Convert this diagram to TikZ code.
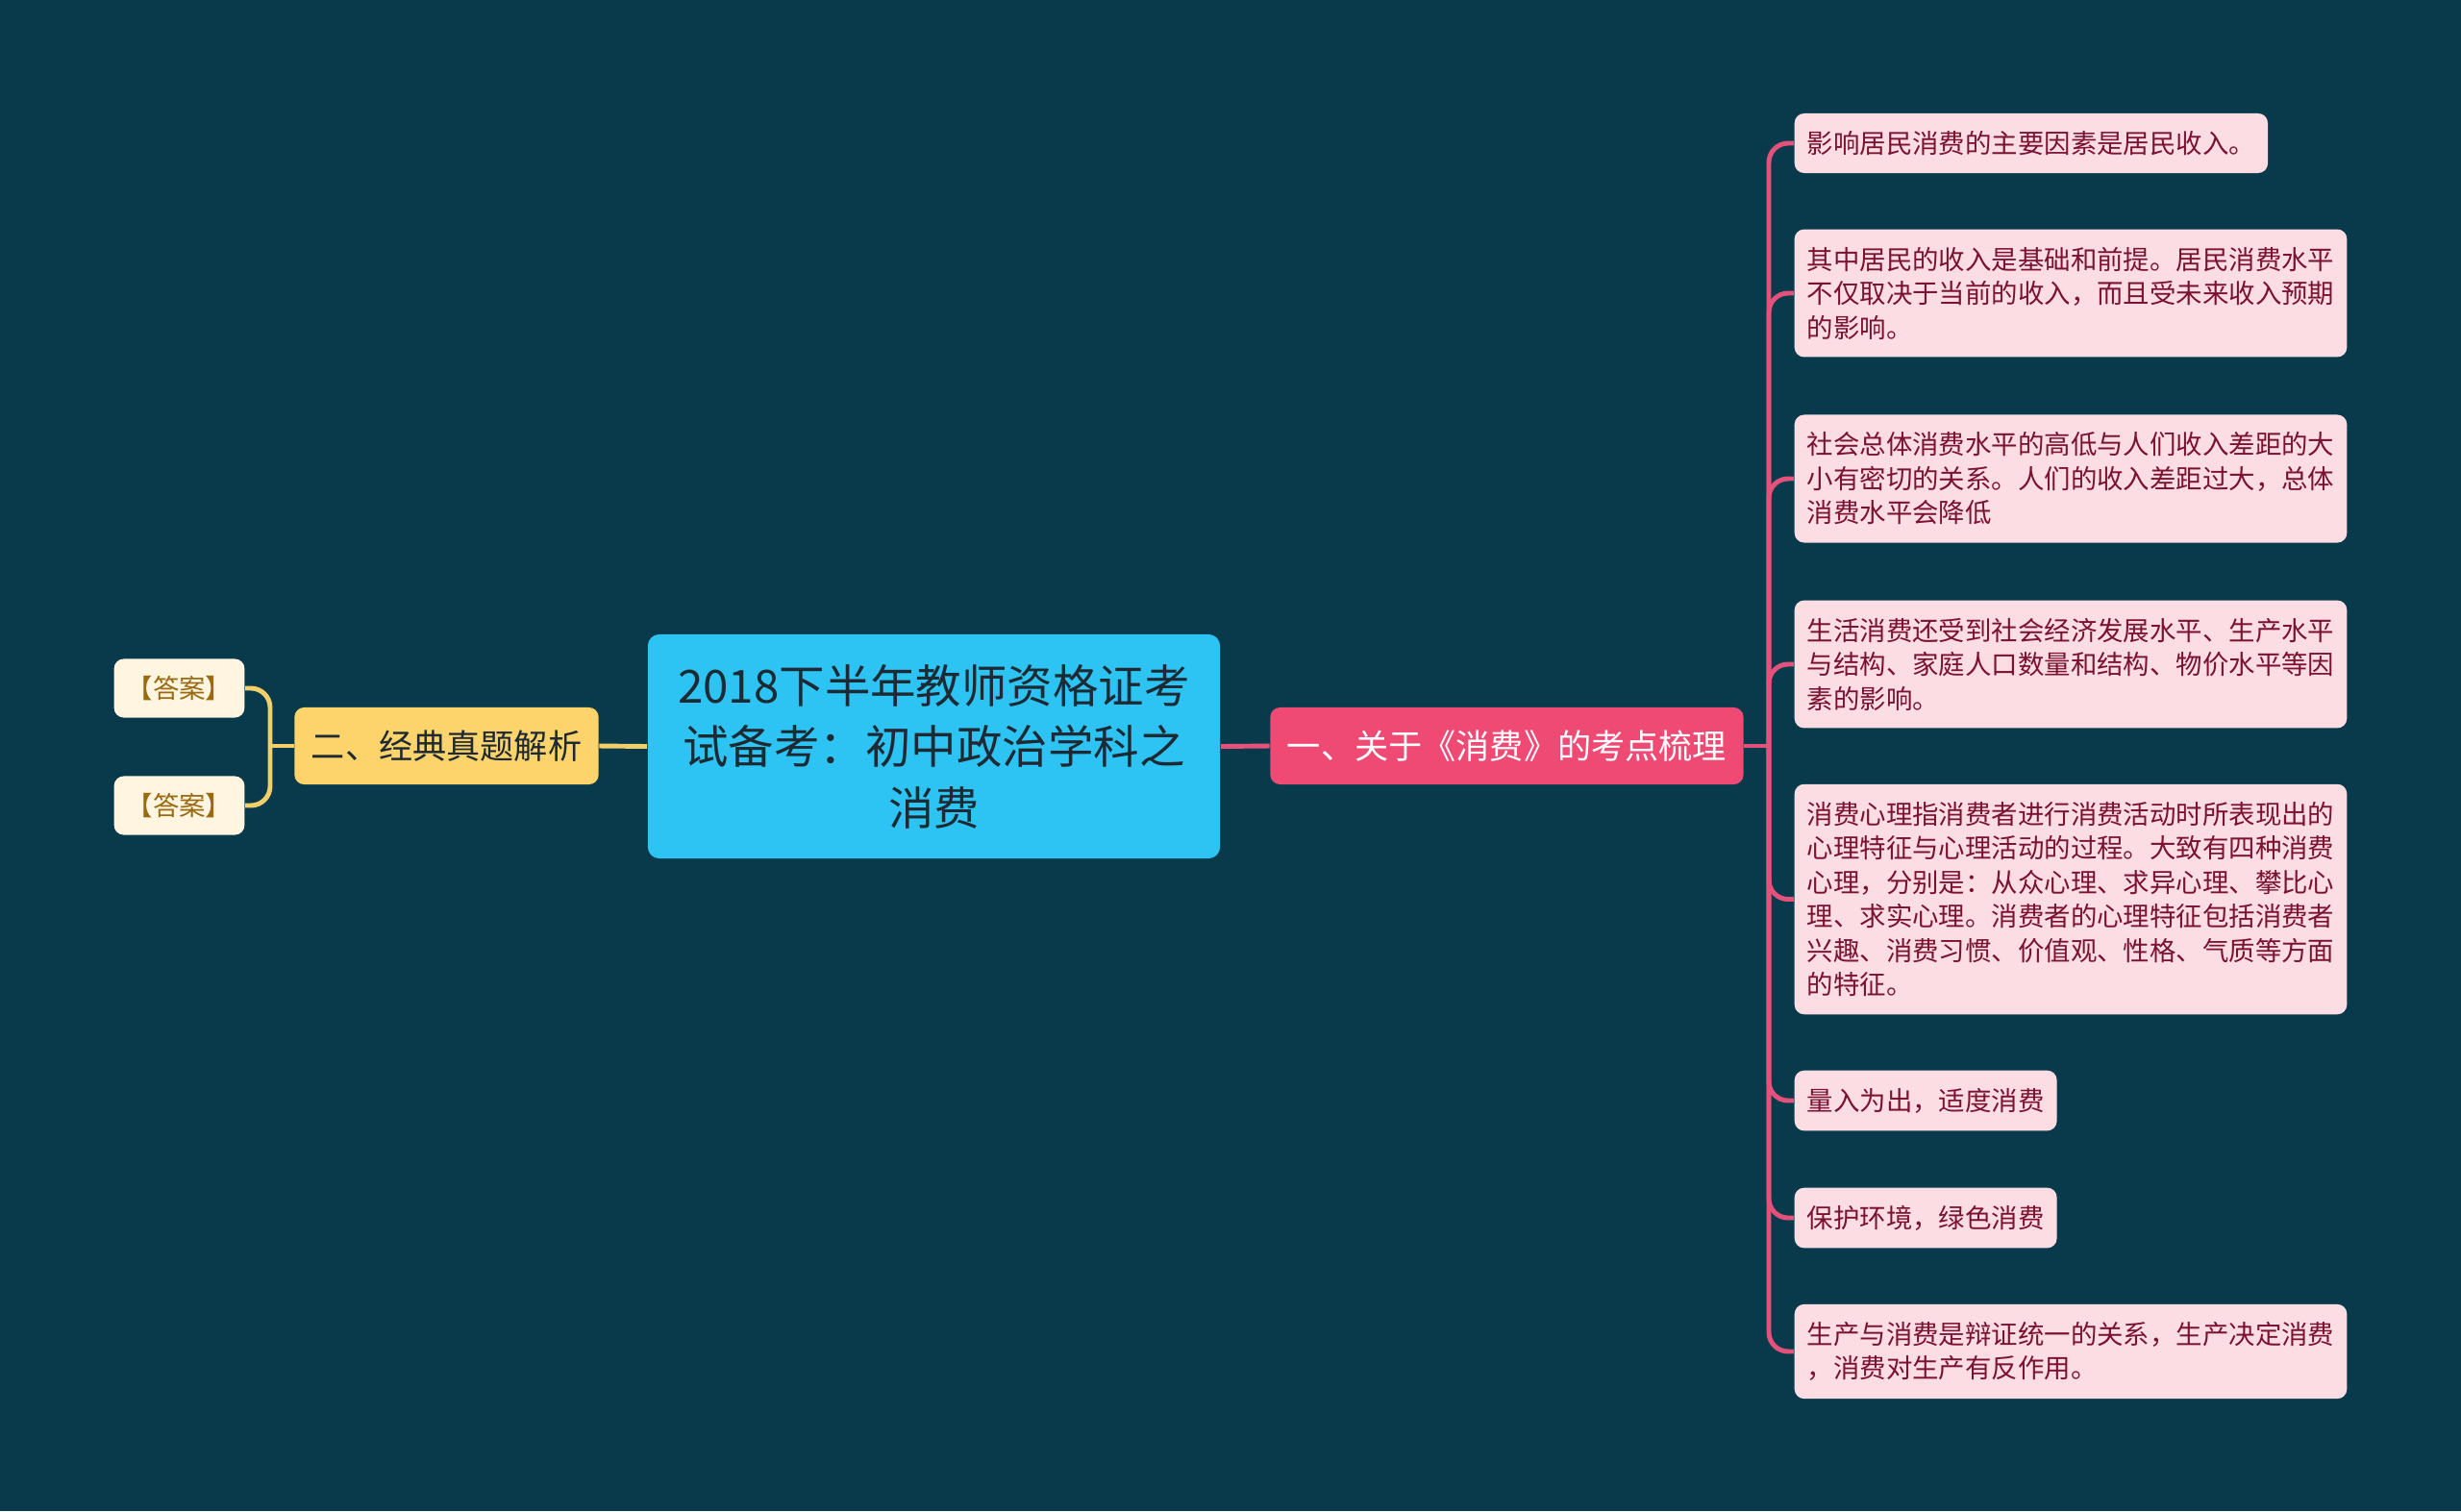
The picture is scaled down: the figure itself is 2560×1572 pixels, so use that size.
\documentclass[tikz,border=0pt]{standalone}
\usepackage{fontspec}
\setmainfont{Noto Sans CJK SC}
\usepackage{xcolor}
\usetikzlibrary{positioning,calc}
\definecolor{Deep}{HTML}{083A4C}
\definecolor{Sky}{HTML}{2DC3F2}
\definecolor{Slate}{HTML}{1E2A33}
\definecolor{Gold}{HTML}{FDD36B}
\definecolor{GoldLine}{HTML}{F2CF6A}
\definecolor{Cream}{HTML}{FFF5E0}
\definecolor{Bronze}{HTML}{9A6A12}
\definecolor{Rose}{HTML}{EE4A73}
\definecolor{RoseLine}{HTML}{E4527C}
\definecolor{Blush}{HTML}{FCDDE3}
\definecolor{Wine}{HTML}{7A1230}
\tikzset{
  roottopic/.style={fill=Sky, text=Slate, rounded corners=0.12cm, align=center,
    minimum width=5.95cm, minimum height=2.33cm,
    font=\fontsize{13.5pt}{18.1pt}\selectfont},
  branchbox/.style={rounded corners=0.1cm, minimum height=0.8cm, inner xsep=0.175cm,
    font=\fontsize{10pt}{12pt}\selectfont},
  answerbox/.style={fill=Cream, text=Bronze, rounded corners=0.1cm, inner xsep=3.7pt,
    minimum height=0.61cm, font=\fontsize{7.8pt}{10.1pt}\selectfont},
  leafbox/.style={fill=Blush, text=Wine, rounded corners=0.1cm, inner xsep=3.7pt,
    inner ysep=5.2pt, minimum height=0.62cm, align=left, anchor=west,
    font=\fontsize{7.8pt}{10.1pt}\selectfont},
  yline/.style={GoldLine, line width=1.4pt, rounded corners=0.2cm},
  pline/.style={RoseLine, line width=1.4pt, rounded corners=0.2cm}
}
\begin{document}
\begin{tikzpicture}[x=0.01cm,y=-0.01cm]
  \fill[Deep] (0,0) rectangle (2560,1572);

  \node[roottopic] (root) at (971.5,776.5) {2018下半年教师资格证考\\试备考：初中政治学科之\\消费};

  \node[branchbox, fill=Gold, text=Slate] (jx) at (464.5,776) {二、经典真题解析};
  \node[answerbox] (da1) at (186.5,716) {【答案】};
  \node[answerbox] (da2) at (186.5,838) {【答案】};
  \coordinate (lj) at (281,776);

  \node[branchbox, fill=Rose, text=white] (kd) at (1567.5,776) {一、关于《消费》的考点梳理};
  \coordinate (rj) at (1840,776);

  \node[leafbox] (l1) at (1866,149) {影响居民消费的主要因素是居民收入。};
  \node[leafbox] (l2) at (1866,305) {其中居民的收入是基础和前提。居民消费水平\\不仅取决于当前的收入，而且受未来收入预期\\的影响。};
  \node[leafbox] (l3) at (1866,498) {社会总体消费水平的高低与人们收入差距的大\\小有密切的关系。人们的收入差距过大，总体\\消费水平会降低};
  \node[leafbox] (l4) at (1866,691) {生活消费还受到社会经济发展水平、生产水平\\与结构、家庭人口数量和结构、物价水平等因\\素的影响。};
  \node[leafbox] (l5) at (1866,935.5) {消费心理指消费者进行消费活动时所表现出的\\心理特征与心理活动的过程。大致有四种消费\\心理，分别是：从众心理、求异心理、攀比心\\理、求实心理。消费者的心理特征包括消费者\\兴趣、消费习惯、价值观、性格、气质等方面\\的特征。};
  \node[leafbox] (l6) at (1866,1145) {量入为出，适度消费};
  \node[leafbox] (l7) at (1866,1267) {保护环境，绿色消费};
  \node[leafbox] (l8) at (1866,1406) {生产与消费是辩证统一的关系，生产决定消费\\，消费对生产有反作用。};

  \draw[yline] (root.west) -- (jx.east);
  \draw[yline] (jx.west) -- (lj);
  \draw[yline] (da1.east) -| (lj) |- (da2.east);

  \draw[pline] (root.east) -- (kd.west);
  \draw[pline] (kd.east) -- (rj);
  \foreach \leaf in {l1,l2,l3,l4,l5,l6,l7,l8}
    \draw[pline] (rj) |- (\leaf.west);
\end{tikzpicture}
\end{document}
